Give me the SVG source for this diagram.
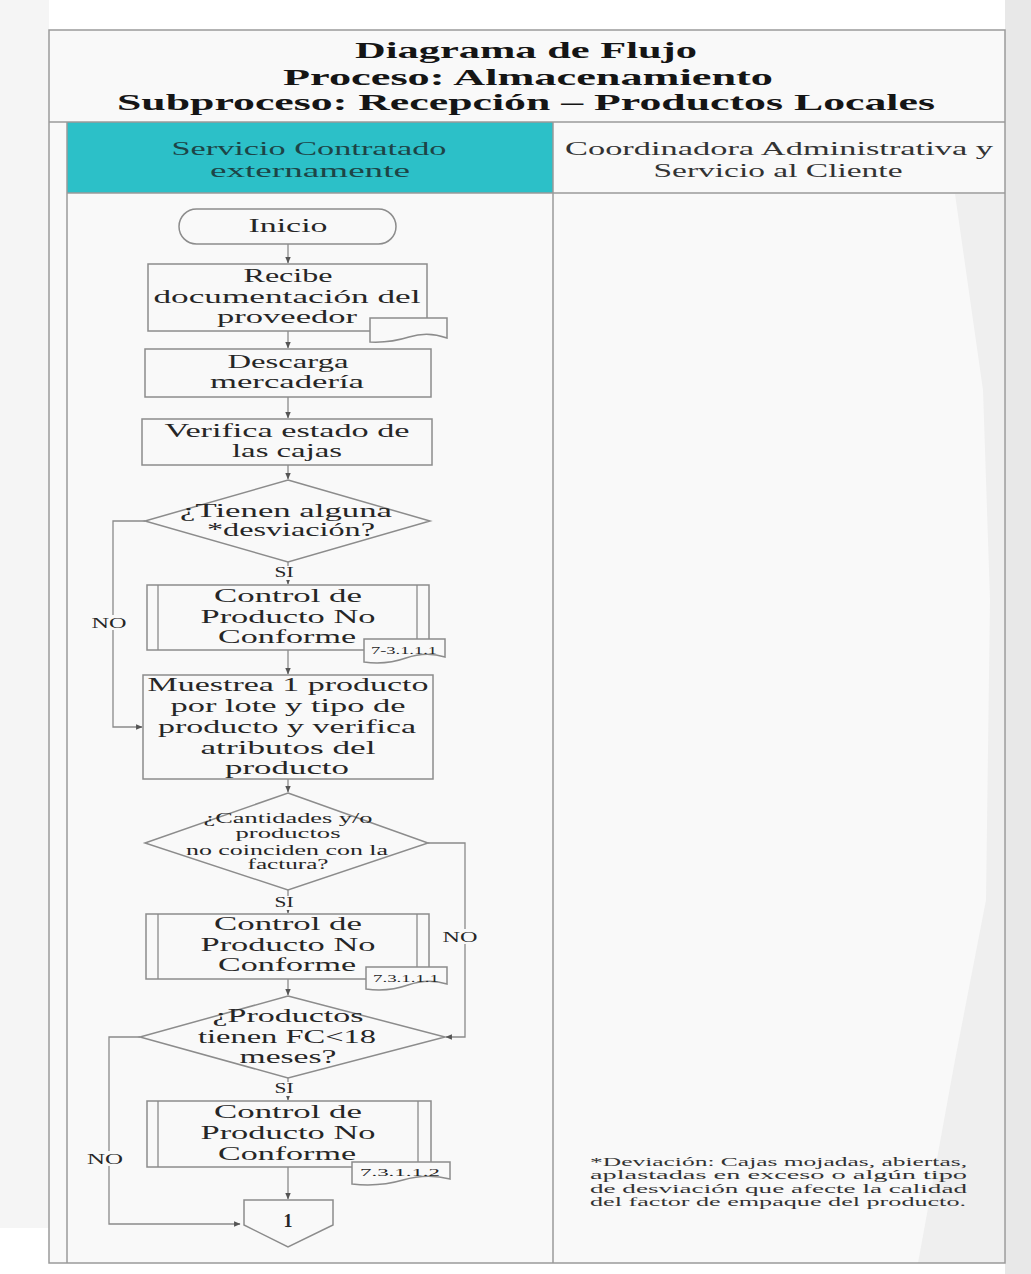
<svg xmlns="http://www.w3.org/2000/svg" width="1031" height="1274" viewBox="0 0 1031 1274">
<defs>
<style>
.bg{fill:#f9f9f9}
.frame{fill:none;stroke:#9a9a9a;stroke-width:1.5}
.ln{fill:none;stroke:#8a8a8a;stroke-width:1.3}
.box{fill:#f9f9f9;stroke:#8c8c8c;stroke-width:1.5}
.t{font-family:"Liberation Serif","DejaVu Serif",serif;fill:#262626;text-anchor:middle}
.title{font-size:23px;font-weight:bold;fill:#151515}
.hd{font-size:18px}
.b{font-size:18px}
.s{font-size:14px}
.r{font-size:11px}
.fn{font-family:"Liberation Serif","DejaVu Serif",serif;font-size:13.5px;fill:#333}
.lbl{fill:#f9f9f9}
</style>
<marker id="ah" viewBox="0 0 6 6" refX="5.5" refY="3" markerWidth="5" markerHeight="5" orient="auto">
<path d="M0,0.5 L6,3 L0,5.5 Z" fill="#555"/>
</marker>
</defs>

<!-- page background -->
<rect x="0" y="0" width="1031" height="1274" fill="#ffffff"/>
<rect x="0" y="0" width="49" height="1228" fill="#f5f5f5"/>
<rect x="1005" y="0" width="26" height="1274" fill="#e8e8e8"/>

<!-- frame -->
<g id="frame">
<rect class="bg" x="49" y="30" width="956" height="1233"/>
<polygon points="955,194 983,390 990,600 986,900 955,1060 918,1263 1004,1263 1004,194" fill="#efefef"/>
<rect x="67" y="122" width="486" height="71" fill="#2cc0c8"/>
<rect class="frame" x="49" y="30" width="956" height="1233"/>
<line class="frame" x1="49" y1="122" x2="1005" y2="122"/>
<line class="frame" x1="67" y1="122" x2="67" y2="1263"/>
<line class="frame" x1="553" y1="122" x2="553" y2="1263"/>
<line class="frame" x1="67" y1="193" x2="1005" y2="193"/>
</g>

<g id="title">
<text class="t title" x="526" y="58" textLength="342" lengthAdjust="spacingAndGlyphs">Diagrama de Flujo</text>
<text class="t title" x="528" y="85" textLength="490" lengthAdjust="spacingAndGlyphs">Proceso: Almacenamiento</text>
<text class="t title" x="526" y="110" textLength="818" lengthAdjust="spacingAndGlyphs">Subproceso: Recepción – Productos Locales</text>
</g>

<g id="lane-servicio">
<text class="t hd" x="309" y="155" style="fill:#1d4446" textLength="275" lengthAdjust="spacingAndGlyphs">Servicio Contratado</text>
<text class="t hd" x="310" y="177" style="fill:#1d4446" textLength="200" lengthAdjust="spacingAndGlyphs">externamente</text>
</g>
<g id="lane-coordinadora">
<text class="t hd" x="779" y="155" style="fill:#333" textLength="428" lengthAdjust="spacingAndGlyphs">Coordinadora Administrativa y</text>
<text class="t hd" x="778" y="177" style="fill:#333" textLength="249" lengthAdjust="spacingAndGlyphs">Servicio al Cliente</text>
</g>

<!-- connectors -->
<g id="connectors">
<line class="ln" x1="288" y1="244" x2="288" y2="263" marker-end="url(#ah)"/>
<line class="ln" x1="288" y1="331" x2="288" y2="348" marker-end="url(#ah)"/>
<line class="ln" x1="288" y1="397" x2="288" y2="418" marker-end="url(#ah)"/>
<line class="ln" x1="288" y1="465" x2="288" y2="479" marker-end="url(#ah)"/>
<line class="ln" x1="288" y1="562" x2="288" y2="584" marker-end="url(#ah)"/>
<line class="ln" x1="288" y1="650" x2="288" y2="674" marker-end="url(#ah)"/>
<line class="ln" x1="288" y1="779" x2="288" y2="792" marker-end="url(#ah)"/>
<line class="ln" x1="288" y1="890" x2="288" y2="913" marker-end="url(#ah)"/>
<line class="ln" x1="288" y1="979" x2="288" y2="995" marker-end="url(#ah)"/>
<line class="ln" x1="288" y1="1078" x2="288" y2="1100" marker-end="url(#ah)"/>
<line class="ln" x1="288" y1="1167" x2="288" y2="1199" marker-end="url(#ah)"/>
<polyline class="ln" points="145,521 113,521 113,727 142,727" marker-end="url(#ah)"/>
<polyline class="ln" points="428,843 465,843 465,1037 446,1037" marker-end="url(#ah)"/>
<polyline class="ln" points="140,1037 109,1037 109,1224 240,1224" marker-end="url(#ah)"/>
<rect class="lbl" x="272" y="566" width="24" height="14"/>
<text class="t s" x="284" y="577" textLength="19" lengthAdjust="spacingAndGlyphs">SI</text>
<rect class="lbl" x="272" y="896" width="24" height="14"/>
<text class="t s" x="284" y="907" textLength="19" lengthAdjust="spacingAndGlyphs">SI</text>
<rect class="lbl" x="272" y="1082" width="24" height="14"/>
<text class="t s" x="284" y="1093" textLength="19" lengthAdjust="spacingAndGlyphs">SI</text>
<rect class="lbl" x="90" y="615" width="38" height="15"/>
<text class="t s" x="109" y="628" textLength="35" lengthAdjust="spacingAndGlyphs">NO</text>
<rect class="lbl" x="442" y="929" width="38" height="15"/>
<text class="t s" x="460" y="942" textLength="35" lengthAdjust="spacingAndGlyphs">NO</text>
<rect class="lbl" x="86" y="1151" width="38" height="15"/>
<text class="t s" x="105" y="1164" textLength="36" lengthAdjust="spacingAndGlyphs">NO</text>
</g>

<g id="inicio">
<rect class="box" x="179" y="209" width="217" height="35" rx="17.5"/>
<text class="t b" x="288" y="232" textLength="79" lengthAdjust="spacingAndGlyphs">Inicio</text>
</g>

<g id="recibe">
<rect class="box" x="148" y="264" width="279" height="67"/>
<text class="t b" x="288" y="282" textLength="89" lengthAdjust="spacingAndGlyphs">Recibe</text>
<text class="t b" x="287" y="303" textLength="267" lengthAdjust="spacingAndGlyphs">documentación del</text>
<text class="t b" x="287" y="323" textLength="140" lengthAdjust="spacingAndGlyphs">proveedor</text>
<path class="box" d="M370,318 H447 V338 Q428,331 409,337 T370,342 Z"/>
</g>

<g id="descarga">
<rect class="box" x="145" y="349" width="286" height="48"/>
<text class="t b" x="288" y="368" textLength="121" lengthAdjust="spacingAndGlyphs">Descarga</text>
<text class="t b" x="287" y="388" textLength="154" lengthAdjust="spacingAndGlyphs">mercadería</text>
</g>

<g id="verifica">
<rect class="box" x="142" y="419" width="290" height="46"/>
<text class="t b" x="287" y="437" textLength="245" lengthAdjust="spacingAndGlyphs">Verifica estado de</text>
<text class="t b" x="287" y="457" textLength="110" lengthAdjust="spacingAndGlyphs">las cajas</text>
</g>

<g id="decision-desviacion">
<polygon class="box" points="288,480 430,521 288,562 145,521"/>
<text class="t b" x="286" y="517" textLength="212" lengthAdjust="spacingAndGlyphs">¿Tienen alguna</text>
<text class="t b" x="291" y="536" textLength="168" lengthAdjust="spacingAndGlyphs">*desviación?</text>
</g>

<g id="control-1">
<rect class="box" x="147" y="585" width="282" height="65"/>
<line class="ln" x1="158" y1="585" x2="158" y2="650"/>
<line class="ln" x1="417" y1="585" x2="417" y2="650"/>
<text class="t b" x="288" y="602" textLength="148" lengthAdjust="spacingAndGlyphs">Control de</text>
<text class="t b" x="288" y="623" textLength="175" lengthAdjust="spacingAndGlyphs">Producto No</text>
<text class="t b" x="287" y="643" textLength="138" lengthAdjust="spacingAndGlyphs">Conforme</text>
<path class="box" d="M364,639 H445 V657 Q426,651 406,658 T364,662 Z"/>
<text class="t r" x="404" y="654" textLength="66" lengthAdjust="spacingAndGlyphs">7-3.1.1.1</text>
</g>

<g id="muestrea">
<rect class="box" x="143" y="675" width="290" height="104"/>
<text class="t b" x="288" y="691" textLength="281" lengthAdjust="spacingAndGlyphs">Muestrea 1 producto</text>
<text class="t b" x="288" y="712" textLength="235" lengthAdjust="spacingAndGlyphs">por lote y tipo de</text>
<text class="t b" x="287" y="733" textLength="258" lengthAdjust="spacingAndGlyphs">producto y verifica</text>
<text class="t b" x="288" y="754" textLength="175" lengthAdjust="spacingAndGlyphs">atributos del</text>
<text class="t b" x="287" y="774" textLength="124" lengthAdjust="spacingAndGlyphs">producto</text>
</g>

<g id="decision-cantidades">
<polygon class="box" points="288,793 428,843 288,890 145,843"/>
<text class="t s" x="288" y="823" textLength="169" lengthAdjust="spacingAndGlyphs">¿Cantidades y/o</text>
<text class="t s" x="288" y="838" textLength="105" lengthAdjust="spacingAndGlyphs">productos</text>
<text class="t s" x="287" y="855" textLength="202" lengthAdjust="spacingAndGlyphs">no coinciden con la</text>
<text class="t s" x="288" y="869" textLength="81" lengthAdjust="spacingAndGlyphs">factura?</text>
</g>

<g id="control-2">
<rect class="box" x="146" y="914" width="283" height="65"/>
<line class="ln" x1="158" y1="914" x2="158" y2="979"/>
<line class="ln" x1="417" y1="914" x2="417" y2="979"/>
<text class="t b" x="288" y="930" textLength="148" lengthAdjust="spacingAndGlyphs">Control de</text>
<text class="t b" x="288" y="951" textLength="175" lengthAdjust="spacingAndGlyphs">Producto No</text>
<text class="t b" x="287" y="971" textLength="138" lengthAdjust="spacingAndGlyphs">Conforme</text>
<path class="box" d="M366,967 H447 V984 Q428,978 408,985 T366,989 Z"/>
<text class="t r" x="406" y="982" textLength="66" lengthAdjust="spacingAndGlyphs">7.3.1.1.1</text>
</g>

<g id="decision-fc">
<polygon class="box" points="288,996 445,1037 288,1078 140,1037"/>
<text class="t b" x="288" y="1022" textLength="151" lengthAdjust="spacingAndGlyphs">¿Productos</text>
<text class="t b" x="287" y="1043" textLength="178" lengthAdjust="spacingAndGlyphs">tienen FC&lt;18</text>
<text class="t b" x="288" y="1063" textLength="97" lengthAdjust="spacingAndGlyphs">meses?</text>
</g>

<g id="control-3">
<rect class="box" x="147" y="1101" width="284" height="66"/>
<line class="ln" x1="158" y1="1101" x2="158" y2="1167"/>
<line class="ln" x1="418" y1="1101" x2="418" y2="1167"/>
<text class="t b" x="288" y="1118" textLength="148" lengthAdjust="spacingAndGlyphs">Control de</text>
<text class="t b" x="288" y="1139" textLength="175" lengthAdjust="spacingAndGlyphs">Producto No</text>
<text class="t b" x="287" y="1160" textLength="138" lengthAdjust="spacingAndGlyphs">Conforme</text>
<path class="box" d="M352,1162 H450 V1179 Q427,1173 403,1180 T352,1184 Z"/>
<text class="t r" x="400" y="1176" textLength="80" lengthAdjust="spacingAndGlyphs">7.3.1.1.2</text>
</g>

<g id="conector-1">
<polygon class="box" points="244,1200 333,1200 333,1225 288,1247 244,1225"/>
<text class="t b" x="288" y="1227" style="font-weight:bold">1</text>
</g>

<g id="nota">
<text class="fn" x="590" y="1166" textLength="377" lengthAdjust="spacingAndGlyphs">*Deviación: Cajas mojadas, abiertas,</text>
<text class="fn" x="590" y="1179" textLength="377" lengthAdjust="spacingAndGlyphs">aplastadas en exceso  o  algún tipo</text>
<text class="fn" x="590" y="1193" textLength="377" lengthAdjust="spacingAndGlyphs">de desviación que afecte la calidad</text>
<text class="fn" x="590" y="1206" textLength="376" lengthAdjust="spacingAndGlyphs">del factor de empaque del producto.</text>
</g>
</svg>
